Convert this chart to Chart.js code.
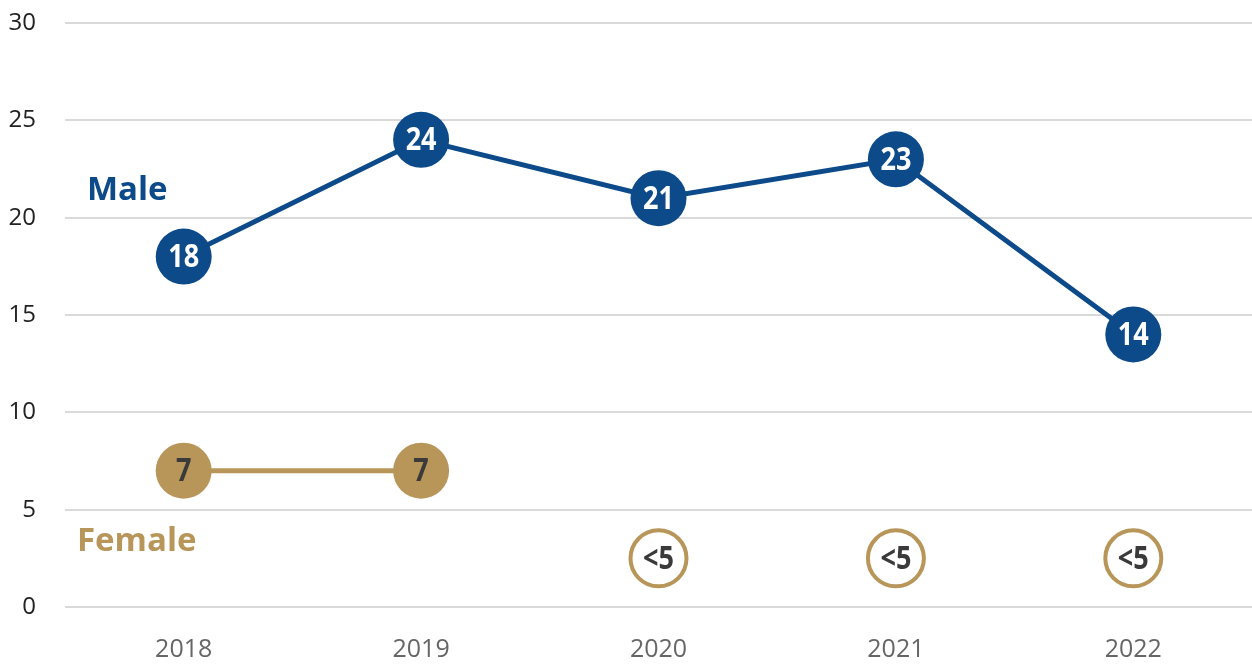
<!DOCTYPE html>
<html>
<head>
<meta charset="utf-8">
<title>Male / Female 2018-2022</title>
<script src="https://cdn.jsdelivr.net/npm/chart.js@4"></script>
<style>
  html, body { margin: 0; padding: 0; background: #fff; overflow: hidden; }
  #wrap { position: relative; width: 1252px; height: 669px; }
</style>
</head>
<body>
<div id="wrap"><canvas id="chart"></canvas></div>
<script>
// ── DATA ─────────────────────────────────────────────
const years = ['2018', '2019', '2020', '2021', '2022'];
const maleValues = [18, 24, 21, 23, 14];
const femaleValues = [7, 7, null, null, null];
// suppressed counts (<5) are drawn at the midpoint of 0–5
const femaleSuppressed = [null, null, 2.5, 2.5, 2.5];
const suppressedLabel = '<5';
const yTicks = [0, 5, 10, 15, 20, 25, 30];

// ── COLOURS ─────────────────────────────────────────
const BLUE = '#0c4a89';
const GOLD = '#b8965a';
const DARK = '#3a3a3a';
const GRID = '#dadada';

// point labels drawn on top of the markers (slightly condensed bold)
const pointLabels = {
  id: 'pointLabels',
  afterDatasetsDraw(chart) {
    const ctx = chart.ctx;
    chart.data.datasets.forEach((ds, i) => {
      const meta = chart.getDatasetMeta(i);
      meta.data.forEach((pt, j) => {
        const v = ds.data[j];
        if (v === null || v === undefined) return;
        const txt = ds.labelText ? ds.labelText : String(v);
        ctx.save();
        ctx.translate(pt.x, pt.y + 1);
        ctx.scale(0.82, 1);
        ctx.font = 'bold 33px "Open Sans", sans-serif';
        ctx.fillStyle = ds.labelColor;
        ctx.textAlign = 'center';
        ctx.textBaseline = 'middle';
        ctx.fillText(txt, 0, 0);
        ctx.restore();
      });
    });
  }
};

// series names inside the plot
const seriesNames = {
  id: 'seriesNames',
  afterDraw(chart) {
    const { ctx, chartArea, scales } = chart;
    ctx.save();
    ctx.font = 'bold 33px "Open Sans", sans-serif';
    ctx.textBaseline = 'middle';
    ctx.textAlign = 'left';
    ctx.fillStyle = BLUE;
    ctx.fillText('Male', chartArea.left + 22, scales.y.getPixelForValue(21.4));
    ctx.fillStyle = GOLD;
    ctx.fillText('Female', chartArea.left + 12, scales.y.getPixelForValue(3.35));
    ctx.restore();
  }
};

new Chart(document.getElementById('chart'), {
  type: 'line',
  data: {
    labels: years,
    datasets: [
      {
        label: 'Male',
        data: maleValues,
        borderColor: BLUE,
        borderWidth: 5,
        pointRadius: 28,
        pointHoverRadius: 28,
        pointBackgroundColor: BLUE,
        pointBorderColor: BLUE,
        pointBorderWidth: 0,
        labelColor: '#ffffff',
        clip: false
      },
      {
        label: 'Female',
        data: femaleValues,
        borderColor: GOLD,
        borderWidth: 5,
        pointRadius: 28,
        pointHoverRadius: 28,
        pointBackgroundColor: GOLD,
        pointBorderColor: GOLD,
        pointBorderWidth: 0,
        spanGaps: false,
        labelColor: DARK,
        clip: false
      },
      {
        label: 'Female (<5)',
        data: femaleSuppressed,
        showLine: false,
        pointRadius: 28,
        pointHoverRadius: 28,
        pointBackgroundColor: '#ffffff',
        pointBorderColor: GOLD,
        pointBorderWidth: 4,
        labelText: suppressedLabel,
        labelColor: DARK,
        clip: false
      }
    ]
  },
  options: {
    responsive: true,
    maintainAspectRatio: false,
    animation: false,
    layout: { autoPadding: false, padding: { top: 23, right: 0, left: 0, bottom: 0 } },
    plugins: {
      legend: { display: false },
      tooltip: { enabled: false }
    },
    scales: {
      x: {
        offset: true,
        grid: { display: false, drawTicks: false },
        border: { display: false },
        ticks: {
          color: '#666666',
          padding: 28,
          font: { family: '"Open Sans", sans-serif', size: 25 }
        },
        afterFit: s => {
          s.height = 62;
          s.paddingLeft = 0;
          s.paddingRight = 0;
        }
      },
      y: {
        min: 0,
        max: 30,
        afterBuildTicks: s => { s.ticks = yTicks.map(v => ({ value: v })); },
        grid: { color: GRID, lineWidth: 2, drawTicks: false },
        border: { display: false },
        ticks: {
          color: '#222222',
          padding: 29,
          font: { family: '"Open Sans", sans-serif', size: 24 }
        },
        afterFit: s => {
          s.width = 65;
          s.paddingTop = 0;
          s.paddingBottom = 0;
        }
      }
    }
  },
  plugins: [pointLabels, seriesNames]
});
</script>
</body>
</html>
